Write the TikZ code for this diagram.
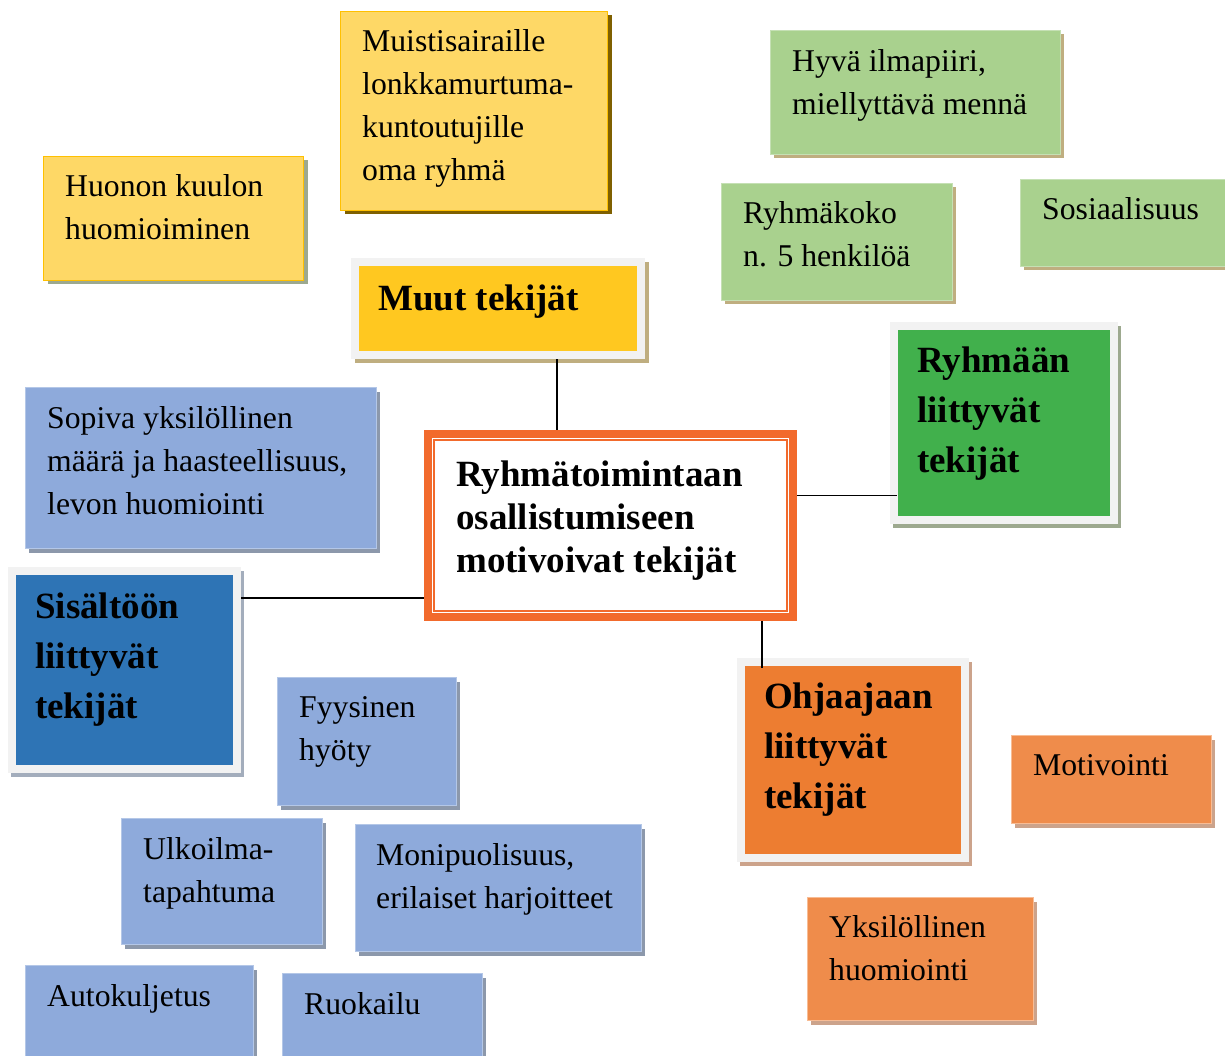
\documentclass[tikz,border=0pt]{standalone}
\usepackage{fontspec}
\setmainfont{Liberation Serif}
\usetikzlibrary{shadows}
\definecolor{yelcard}{HTML}{FED866}
\definecolor{yelline}{HTML}{FFC000}
\definecolor{yelmain}{HTML}{FFC820}
\definecolor{grncard}{HTML}{A9D18E}
\definecolor{grnline}{HTML}{C5E0B4}
\definecolor{grnmain}{HTML}{41B04C}
\definecolor{blucard}{HTML}{8EAADB}
\definecolor{bluline}{HTML}{B4C7E7}
\definecolor{blumain}{HTML}{2E74B5}
\definecolor{orgcard}{HTML}{EF8C4B}
\definecolor{orgline}{HTML}{F8BC94}
\definecolor{orgmain}{HTML}{ED7D31}
\definecolor{centre}{HTML}{F26A2C}
\definecolor{frame}{HTML}{F2F2F2}
\definecolor{shdark}{HTML}{7F6000}
\definecolor{shtan}{HTML}{BFAE80}
\definecolor{shgrey}{HTML}{8C98AB}
\definecolor{shsage}{HTML}{9DA98F}
\definecolor{shrose}{HTML}{CCA38B}
\newcommand{\tstrut}[1]{\rule{0pt}{#1pt}}

\begin{document}
\begin{tikzpicture}[
    x=1pt, y=-1pt,
    card/.style={rectangle, anchor=north west, inner sep=0pt, line width=1pt},
    ycard/.style={card, fill=yelcard, draw=yelline, drop shadow={shadow xshift=4pt, shadow yshift=-4pt, fill=#1, opacity=1}},
    gcard/.style={card, fill=grncard, draw=grnline, drop shadow={shadow xshift=3pt, shadow yshift=-4pt, fill=shtan, opacity=1}},
    bcard/.style={card, fill=blucard, draw=bluline, drop shadow={shadow xshift=3pt, shadow yshift=-4pt, fill=shgrey, opacity=1}},
    ocard/.style={card, fill=orgcard, draw=orgline, drop shadow={shadow xshift=3pt, shadow yshift=-4pt, fill=shrose, opacity=1}},
    mainbox/.style={rectangle, anchor=north west, inner sep=0pt, line width=8pt, draw=frame, fill=#1},
    txt/.style={anchor=north west, inner sep=0pt, align=left, font=\fontsize{31.7}{43}\selectfont},
    bold/.style={anchor=north west, inner sep=0pt, align=left, font=\fontsize{37}{50}\selectfont\bfseries},
    conn/.style={line width=1.5pt, black}
]
\useasboundingbox (0,0) rectangle (1225,1056);

% yellow
\node[ycard=shdark, minimum width=267, minimum height=199] (muis) at (340,11) {};
\node[txt] (muis-t) at ([xshift=22]muis.north west) {\tstrut{40}Muistisairaille\\lonkkamurtuma-\\kuntoutujille\\oma ryhmä};
\node[ycard=shsage, minimum width=260, minimum height=124] (huon) at (43,156) {};
\node[txt] (huon-t) at ([xshift=22]huon.north west) {\tstrut{40}Huonon kuulon\\huomioiminen};
\node[mainbox=yelmain, minimum width=286, minimum height=93,
      drop shadow={shadow xshift=4pt, shadow yshift=-4pt, fill=shtan, draw=shtan, line width=8pt, opacity=1}] (muut) at (351,258) {};
\node[bold] (muut-t) at ([xshift=27]muut.north west) {\tstrut{52}Muut tekijät};

% green
\node[gcard, minimum width=290, minimum height=124] (hyva) at (770,30) {};
\node[txt] (hyva-t) at ([xshift=22]hyva.north west) {\tstrut{41}Hyvä ilmapiiri,\\miellyttävä mennä};
\node[gcard, minimum width=231, minimum height=117] (koko) at (721,183) {};
\node[txt] (koko-t) at ([xshift=22]koko.north west) {\tstrut{40}Ryhmäkoko\\n. 5 henkilöä};
\node[gcard, minimum width=215, minimum height=87] (sosi) at (1020,179) {};
\node[txt] (sosi-t) at ([xshift=22]sosi.north west) {\tstrut{40}Sosiaalisuus};
\node[mainbox=grnmain, minimum width=220, minimum height=194,
      drop shadow={shadow xshift=3pt, shadow yshift=-4pt, fill=shsage, draw=shsage, line width=8pt, opacity=1}] (ryh) at (890,322) {};
\node[bold] (ryh-t) at ([xshift=27]ryh.north west) {\tstrut{50}Ryhmään\\liittyvät\\tekijät};

% blue
\node[bcard, minimum width=351, minimum height=161] (sopi) at (25,387) {};
\node[txt] (sopi-t) at ([xshift=22]sopi.north west) {\tstrut{41}Sopiva yksilöllinen\\määrä ja haasteellisuus,\\levon huomiointi};
\node[mainbox=blumain, minimum width=225, minimum height=198,
      drop shadow={shadow xshift=3pt, shadow yshift=-4pt, fill=shgrey!80, draw=shgrey!80, line width=8pt, opacity=1}] (sis) at (8,567) {};
\node[bold] (sis-t) at ([xshift=27]sis.north west) {\tstrut{51}Sisältöön\\liittyvät\\tekijät};
\node[bcard, minimum width=179, minimum height=128] (fyys) at (277,677) {};
\node[txt] (fyys-t) at ([xshift=22]fyys.north west) {\tstrut{40}Fyysinen\\hyöty};
\node[bcard, minimum width=201, minimum height=126] (ulko) at (121,818) {};
\node[txt] (ulko-t) at ([xshift=22]ulko.north west) {\tstrut{41}Ulkoilma-\\tapahtuma};
\node[bcard, minimum width=286, minimum height=127] (moni) at (355,824) {};
\node[txt] (moni-t) at ([xshift=21]moni.north west) {\tstrut{41}Monipuolisuus,\\erilaiset harjoitteet};
\node[bcard, minimum width=228, minimum height=100] (auto) at (25,965) {};
\node[txt] (auto-t) at ([xshift=22]auto.north west) {\tstrut{41}Autokuljetus};
\node[bcard, minimum width=200, minimum height=95] (ruok) at (282,973) {};
\node[txt] (ruok-t) at ([xshift=22]ruok.north west) {\tstrut{41}Ruokailu};

% orange
\node[mainbox=orgmain, minimum width=224, minimum height=196,
      drop shadow={shadow xshift=3pt, shadow yshift=-4pt, fill=shrose, draw=shrose, line width=8pt, opacity=1}] (ohj) at (737,658) {};
\node[bold] (ohj-t) at ([xshift=27]ohj.north west) {\tstrut{50}Ohjaajaan\\liittyvät\\tekijät};
\node[ocard, minimum width=200, minimum height=88] (moti) at (1011,735) {};
\node[txt] (moti-t) at ([xshift=22]moti.north west) {\tstrut{40}Motivointi};
\node[ocard, minimum width=226, minimum height=123] (yksi) at (807,897) {};
\node[txt] (yksi-t) at ([xshift=22]yksi.north west) {\tstrut{40}Yksilöllinen\\huomiointi};

% centre
\node[rectangle, anchor=north west, inner sep=0pt, line width=8pt, draw=centre, fill=white,
      minimum width=365, minimum height=183] (cen) at (424,430) {};
\draw[centre, line width=1.5pt] ([shift={(10,10)}]cen.north west) rectangle ([shift={(-10,-10)}]cen.south east);
\node[anchor=north west, inner sep=0pt, align=left, font=\fontsize{37}{43}\selectfont\bfseries] (cen-t)
    at ([xshift=32]cen.north west) {\tstrut{56}Ryhmätoimintaan\\osallistumiseen\\motivoivat tekijät};

% connectors
\draw[conn] ([xshift=59]muut.south) -- ([xshift=59]muut.south |- cen.north);
\draw[conn] ([yshift=30]cen.east) -- ([yshift=30,xshift=7]cen.east -| ryh.west);
\draw[conn] ([yshift=72]sis.east) -- ([yshift=72]sis.east -| cen.west);
\draw[conn] ([xshift=-91]ohj.north |- cen.south) -- ([xshift=-91,yshift=-10]ohj.north);
\end{tikzpicture}
\end{document}
